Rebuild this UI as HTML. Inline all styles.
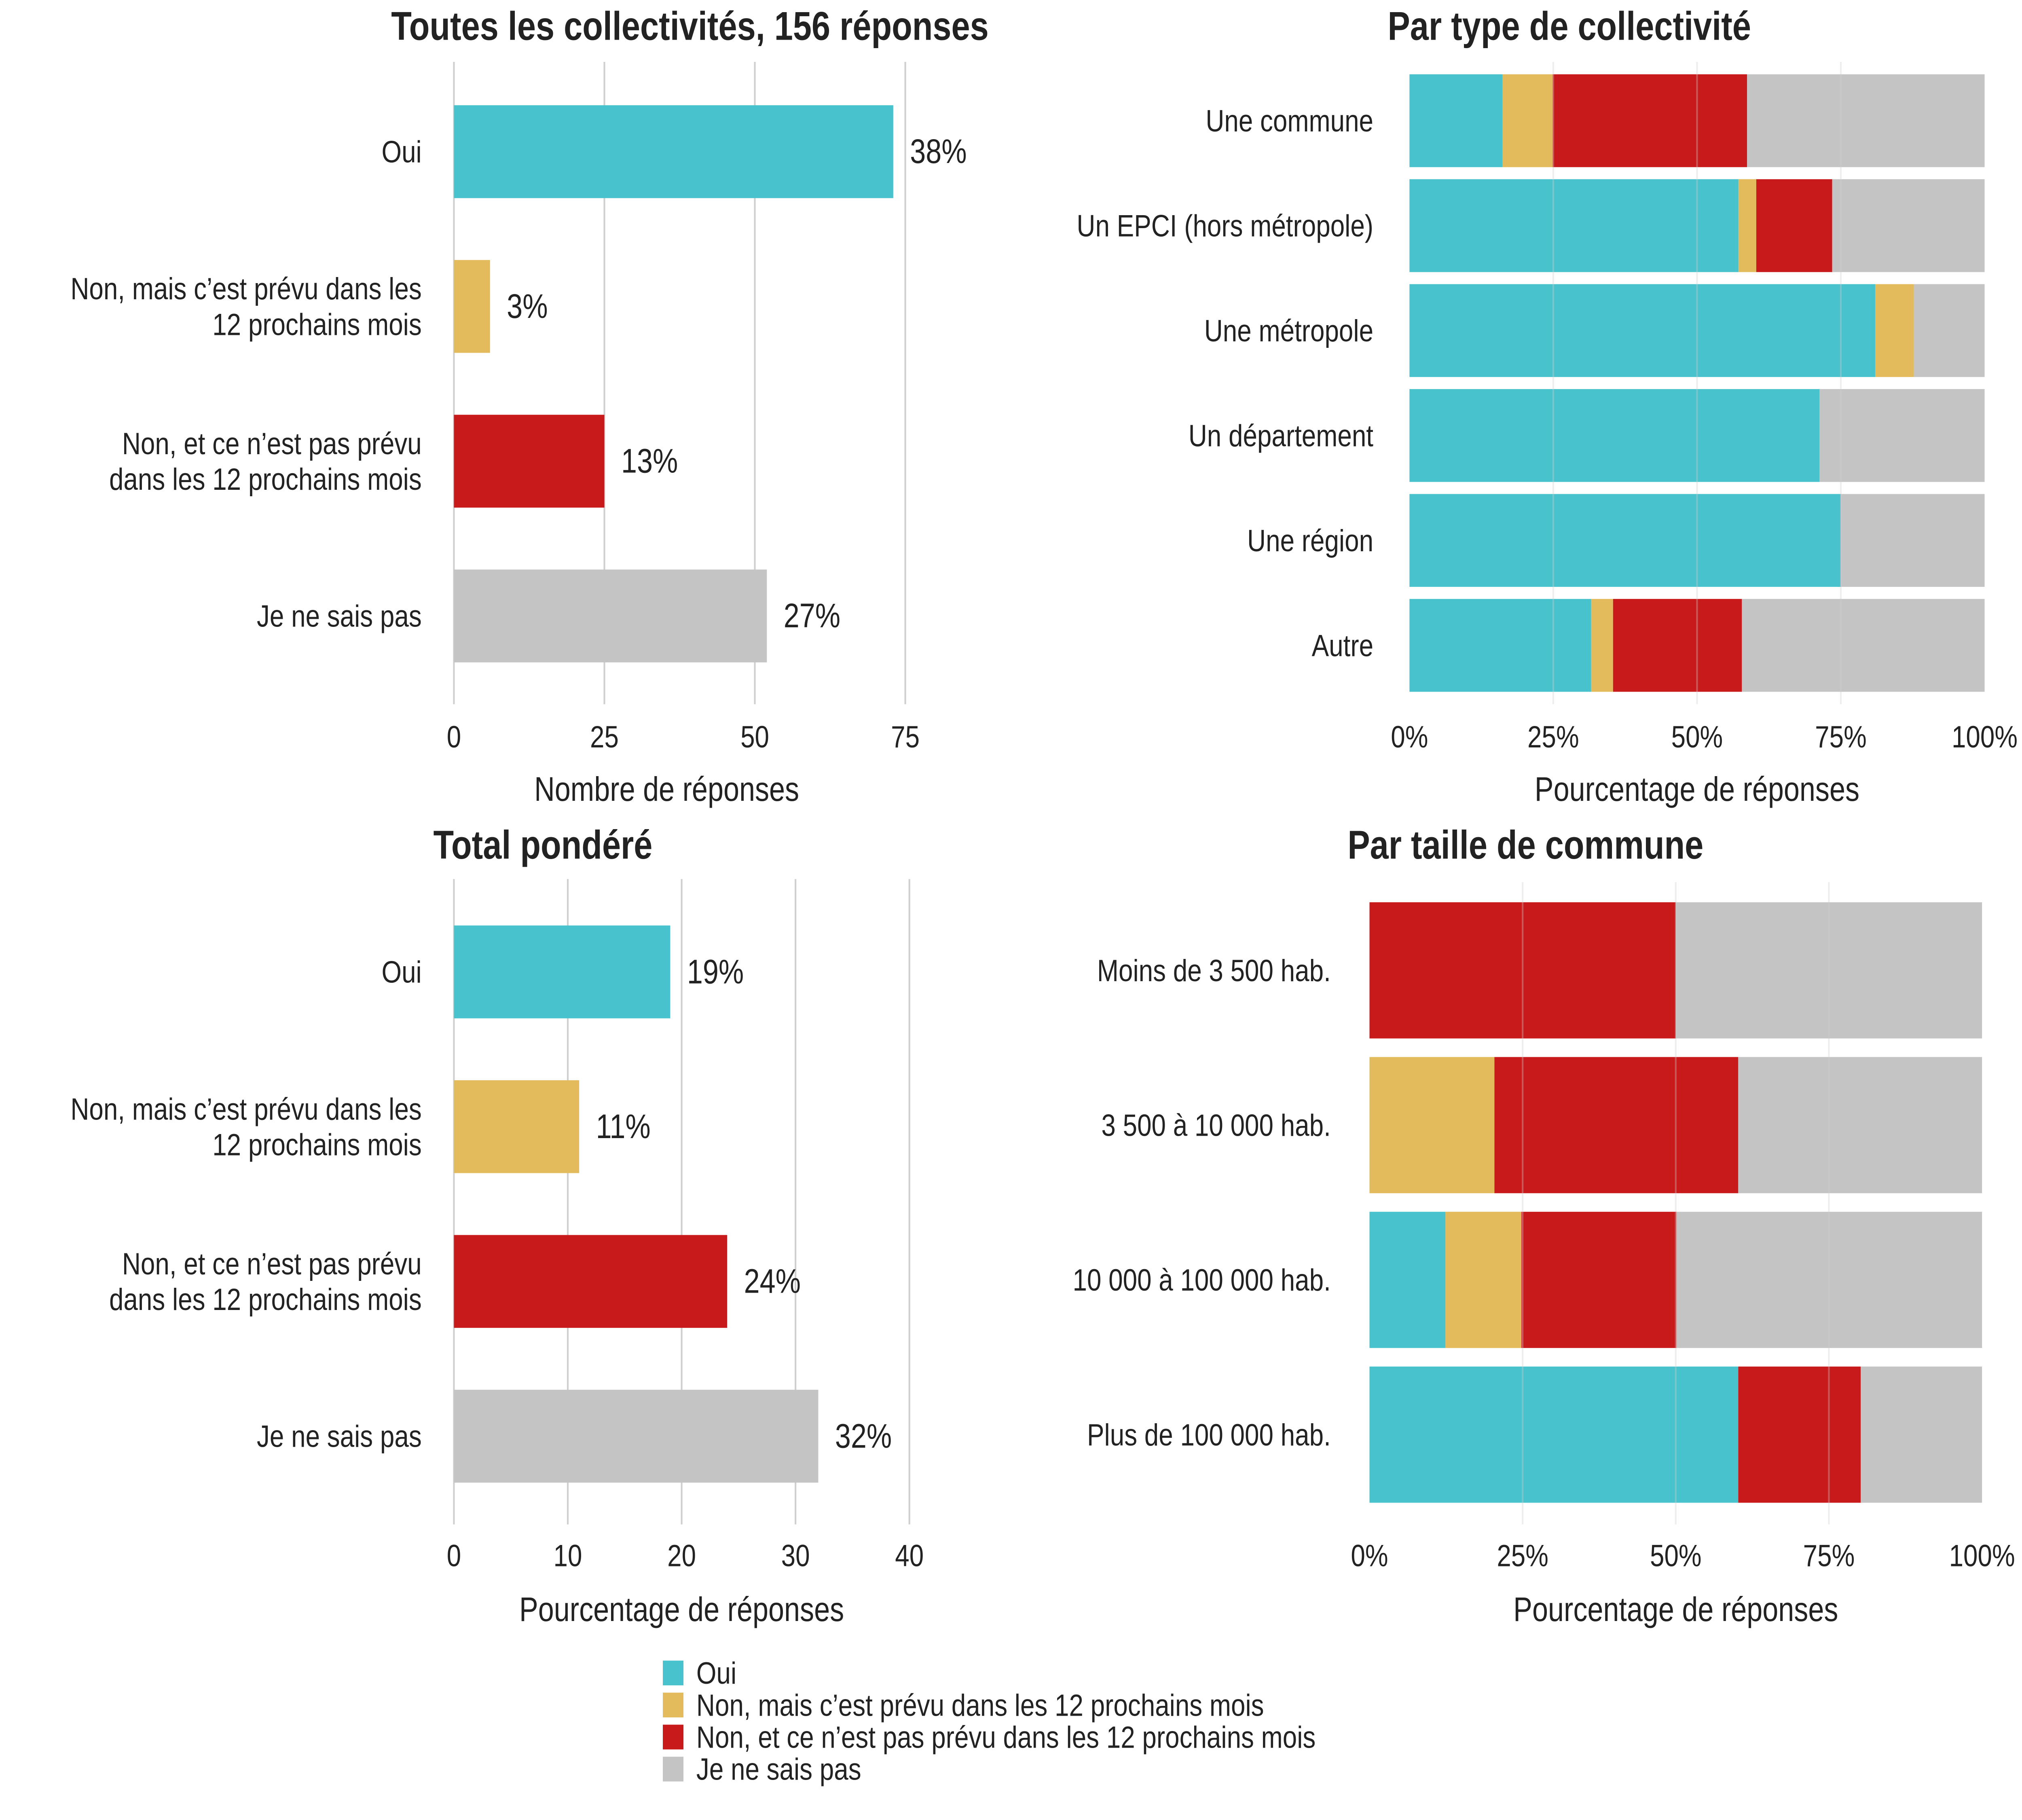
<!DOCTYPE html>
<html><head><meta charset="utf-8">
<style>
html,body{margin:0;padding:0;background:#fff;width:100%;height:100%;overflow:hidden}
svg{display:block;position:absolute;left:0;top:0;width:100vw;height:100vh}
text{font-family:"Liberation Sans",sans-serif;fill:#222}
</style></head><body>
<svg id="c" viewBox="0 0 1568 1176" preserveAspectRatio="none" xmlns="http://www.w3.org/2000/svg"></svg>
<script>
const colors=["#48c2cd","#e3bb5c","#c8191b","#c4c4c4"];
const answers=["Oui","Non, mais c’est prévu dans les 12 prochains mois","Non, et ce n’est pas prévu dans les 12 prochains mois","Je ne sais pas"];
const catLines=[["Oui"],["Non, mais c’est prévu dans les","12 prochains mois"],["Non, et ce n’est pas prévu","dans les 12 prochains mois"],["Je ne sais pas"]];
const countValues=[73,6,25,52];
const countLabels=["38%","3%","13%","27%"];
const countTicks=[0,25,50,75];
const weightedValues=[19,11,24,32];
const weightedLabels=["19%","11%","24%","32%"];
const weightedTicks=[0,10,20,30,40];
const typeCats=["Une commune","Un EPCI (hors métropole)","Une métropole","Un département","Une région","Autre"];
const typeOui=[16.2,57.2,81,71.3,75,31.6];
const typePrevu=[8.7,3.1,6.7,0,0,3.8];
const typeNon=[33.8,13.2,0,0,0,22.4];
const sizeCats=["Moins de 3 500 hab.","3 500 à 10 000 hab.","10 000 à 100 000 hab.","Plus de 100 000 hab."];
const sizeOui=[0,0,12.4,60.2];
const sizePrevu=[0,20.4,12.4,0];
const sizeNon=[50,39.8,25.3,20];
const pctTicks=[0,25,50,75,100];
const pctTickLabels=["0%","25%","50%","75%","100%"];

const svg=document.getElementById('c');
const NS="http://www.w3.org/2000/svg";
function mk(tag,attrs,parent){const e=document.createElementNS(NS,tag);for(const k in attrs)e.setAttribute(k,attrs[k]);(parent||svg).appendChild(e);return e;}
function txt(x,y,s,size,anchor,weight,parent){const t=mk('text',{x:x,y:y,'font-size':size,'text-anchor':anchor||'start','dominant-baseline':'central','font-weight':weight||'normal'},parent);t.textContent=s;return t;}

function grid(g,xs,y0,y1){xs.forEach(x=>mk('line',{x1:x,x2:x,y1:y0,y2:y1,stroke:'#cfcfcf','stroke-width':1.3},g));}

function simplePanel(name,x0,pxPer,values,labels,ticks,topY,title,titleX,titleY,axisTitle,gy0,gy1,tickY,atY){
  const g=mk('g',{});
  
  
  const xs=v=>x0+v*pxPer;
  grid(g,ticks.map(xs),gy0,gy1);
  const t=txt(titleX,titleY,title,26,'middle','bold',g);
  
  values.forEach((v,i)=>{
    const cy=topY+i*100;
    const r=mk('rect',{x:x0,y:cy-30,width:xs(v)-x0,height:60,fill:colors[i]},g);
    
    
    const l=txt(xs(v)+13,cy,labels[i],22,'start','normal',g);
    l.setAttribute('font-family','"DejaVu Sans",sans-serif');
    
    
    const lines=catLines[i];
    lines.forEach((s,j)=>{const c=txt(327,cy+(j-(lines.length-1)/2)*23,s,20,'end','normal',g);
      });
  });
  ticks.forEach(tk=>{const e=txt(xs(tk),tickY,String(tk),20,'middle','normal',g);});
  const a=txt((x0+xs(ticks[ticks.length-1]))/2+ (name==='panel-count'?-10:0),atY,axisTitle,22,'middle','normal',g);
  
}
simplePanel('panel-count',352,4.667,countValues,countLabels,countTicks,98,'Toutes les collectivités, 156 réponses',535,17,'Nombre de réponses',40,455,476,510);
simplePanel('panel-weighted',352,8.83,weightedValues,weightedLabels,weightedTicks,628,'Total pondéré',421,546,'Pourcentage de réponses',568,985,1005,1040);

function stackPanel(name,x0,x1,cats,oui,prevu,non,topY,step,h,title,titleX,titleY,gy0,gy1,tickY,atY,labelX){
  const g=mk('g',{});
  
  
  const xs=v=>x0+v*(x1-x0)/100;
  const t=txt(titleX,titleY,title,26,'middle','bold',g);
  
  cats.forEach((c,i)=>{
    const cy=topY+i*step;
    const segs=[oui[i],prevu[i],non[i],100-oui[i]-prevu[i]-non[i]];
    let acc=0;
    segs.forEach((v,k)=>{
      if(v>0){const r=mk('rect',{x:xs(acc),y:cy-h/2,width:xs(acc+v)-xs(acc),height:h,fill:colors[k]},g);
        
        }
      acc+=v;
    });
    const l=txt(labelX,cy,c,20,'end','normal',g);
    
  });
  const gg=mk('g',{opacity:0.35},g);
  grid(gg,pctTicks.slice(1,4).map(xs),gy0,gy1);
  pctTicks.forEach((tk,i)=>{const e=txt(xs(tk),tickY,pctTickLabels[i],20,'middle','normal',g);});
  const a=txt((x0+x1)/2,atY,'Pourcentage de réponses',22,'middle','normal',g);
  
}
stackPanel('panel-type',1093,1539,typeCats,typeOui,typePrevu,typeNon,78,67.8,60,'Par type de collectivité',1217,17,40,455,476,510,1065);
stackPanel('panel-size',1062,1537,sizeCats,sizeOui,sizePrevu,sizeNon,627,100,88,'Par taille de commune',1183,546,570,985,1005,1040,1032);

const lg=mk('g',{});


answers.forEach((a,i)=>{
  const y=1081+i*20.7;
  const r=mk('rect',{x:514,y:y-8,width:16,height:16,fill:colors[i]},lg);
  
  const t=txt(540,y,a,20,'start','normal',lg);
  
});
</script>
</body></html>
